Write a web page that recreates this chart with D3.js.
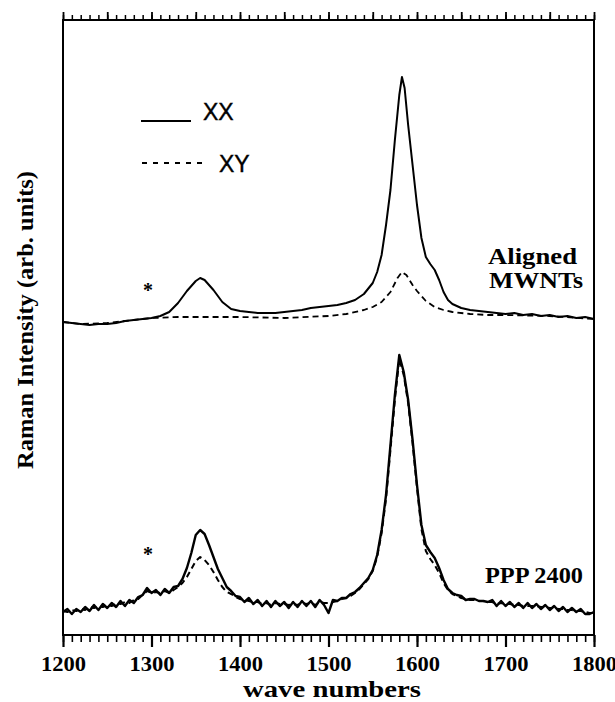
<!DOCTYPE html>
<html>
<head>
<meta charset="utf-8">
<script src="https://cdn.jsdelivr.net/npm/d3@7/dist/d3.min.js"></script>
<style>
  html, body { margin: 0; padding: 0; background: #fff; }
  svg { display: block; }
</style>
</head>
<body>
<svg id="chart" width="615" height="702"></svg>
<script>
// ---------- data ----------
const xTickLabels = [1200, 1300, 1400, 1500, 1600, 1700, 1800];

// Aligned MWNTs, XX polarisation
const wnTopXX = [1200,1210,1220,1230,1240,1250,1260,1270,1280,1290,1300,1310,1320,1330,1340,1350,1355,1360,1370,1380,1390,1400,1410,1420,1430,1440,1450,1460,1470,1480,1490,1500,1510,1520,1530,1540,1550,1555,1560,1565,1570,1575,1580,1583,1586,1590,1595,1600,1605,1610,1615,1620,1625,1630,1635,1640,1650,1660,1670,1680,1690,1700,1710,1720,1730,1740,1750,1760,1770,1780,1790,1800];
const topXX   = [313,312,311,310,311,311,312,314,315,316,317,319,323,332,344,354,357,355,345,333,326,324,323,322,322,322,323,324,325,327,328,329,330,332,335,341,352,363,380,410,445,495,540,558,547,510,470,430,397,378,371,365,355,343,335,331,327,325,324,323,322,321,322,320,321,319,320,318,319,317,318,316];

// Aligned MWNTs, XY polarisation
const wnTopXY = [1200,1220,1250,1280,1300,1330,1360,1400,1450,1500,1520,1540,1550,1560,1570,1578,1583,1588,1595,1600,1610,1620,1630,1640,1660,1680,1700,1750,1800];
const topXY   = [313,311,312,315,317,318,318,318,317,319,321,325,328,333,343,357,363,360,350,344,334,328,325,323,321,320,320,319,316];

// PPP 2400 (5 cm-1 grid)
const wnBottom = d3.range(1200, 1801, 5);
const bottomXX = [
  23,26,21,26,23,28,24,30,25,31,
  27,32,28,34,29,35,32,38,40,47,
  42,45,40,46,42,48,49,56,67,82,
  100,105,101,90,78,66,57,48,44,39,
  38,33,37,31,35,29,34,28,34,29,
  33,27,33,28,34,29,34,28,35,30,
  22,35,34,37,37,41,43,47,52,57,
  65,80,105,140,190,240,280,263,235,195,
  150,110,90,83,77,67,55,46,42,40,
  39,35,36,36,34,34,33,35,29,34,
  29,33,28,32,27,32,27,31,26,30,
  25,29,24,28,23,27,23,26,21,21,
  23];
const bottomXY = [
  24,23,25,24,26,25,28,27,29,28,
  30,29,31,31,33,32,35,36,40,44,
  42,43,42,44,42,45,48,52,58,66,
  74,78,75,70,63,55,48,43,41,38,
  36,35,34,33,33,31,32,30,32,31,
  31,30,31,30,32,31,32,30,33,32,
  32,33,34,36,37,39,42,46,51,56,
  64,78,102,136,185,235,276,260,232,192,
  147,106,84,76,70,62,52,45,41,39,
  37,36,35,35,34,34,33,33,31,32,
  31,31,30,30,29,29,29,29,28,28,
  27,27,26,26,25,25,24,24,23,22,
  22];

// ---------- drawing ----------
const svg = d3.select("#chart");
const L = 63, R = 594, T = 20, B = 635;
const x = d3.scaleLinear().domain([1200, 1800]).range([L, R]);
const y = d3.scaleLinear().domain([0, 620]).range([B, 15]);

const serif = "'Liberation Serif', 'Times New Roman', serif";
const sans = "'Liberation Sans', Arial, sans-serif";

function curve(wn, vals, dashed, w) {
  const line = d3.line().x((d, i) => x(wn[i])).y(d => y(d));
  svg.append("path")
    .datum(vals)
    .attr("d", line)
    .attr("fill", "none")
    .attr("stroke", "#000")
    .attr("stroke-width", w)
    .attr("stroke-linejoin", "round")
    .attr("stroke-dasharray", dashed ? "6,4" : null);
}

curve(wnTopXY, topXY, true, 1.8);
curve(wnTopXX, topXX, false, 2);
curve(wnBottom, bottomXY, true, 2);
curve(wnBottom, bottomXX, false, 2.4);

// frame
svg.append("rect")
  .attr("x", L).attr("y", T).attr("width", R - L).attr("height", B - T)
  .attr("fill", "none").attr("stroke", "#000").attr("stroke-width", 2);

// bottom axis
function styleAxis(g, w) {
  g.select(".domain").remove();
  g.selectAll(".tick line").attr("stroke", "#000").attr("stroke-width", w);
}
svg.append("g").attr("transform", `translate(0,${B})`)
  .call(d3.axisBottom(x).tickValues(d3.range(1200, 1801, 10)).tickSize(7).tickFormat(""))
  .call(g => styleAxis(g, 1.6));
svg.append("g").attr("transform", `translate(0,${B})`)
  .call(d3.axisBottom(x).tickValues(xTickLabels).tickSize(12).tickPadding(9).tickFormat(d3.format("d")))
  .call(g => styleAxis(g, 2.2))
  .call(g => g.selectAll("text")
     .attr("font-family", serif).attr("font-weight", "bold")
     .attr("font-size", 21).attr("fill", "#000")
     .attr("textLength", 45).attr("lengthAdjust", "spacingAndGlyphs"));

// top axis
svg.append("g").attr("transform", `translate(0,${T})`)
  .call(d3.axisTop(x).tickValues(d3.range(1200, 1801, 10)).tickSize(5).tickFormat(""))
  .call(g => styleAxis(g, 1.5));
svg.append("g").attr("transform", `translate(0,${T})`)
  .call(d3.axisTop(x).tickValues(d3.range(1200, 1801, 50)).tickSize(8).tickFormat(""))
  .call(g => styleAxis(g, 1.8));

// axis titles
svg.append("text")
  .attr("x", 332).attr("y", 697)
  .attr("text-anchor", "middle")
  .attr("font-family", serif).attr("font-weight", "bold").attr("font-size", 23)
  .attr("textLength", 178).attr("lengthAdjust", "spacingAndGlyphs")
  .text("wave numbers");
svg.append("text")
  .attr("transform", "translate(33,320) rotate(-90)")
  .attr("text-anchor", "middle")
  .attr("font-family", serif).attr("font-weight", "bold").attr("font-size", 23)
  .attr("textLength", 298).attr("lengthAdjust", "spacingAndGlyphs")
  .text("Raman Intensity (arb. units)");

// legend
svg.append("line").attr("x1", 141).attr("x2", 191).attr("y1", 121).attr("y2", 121)
  .attr("stroke", "#000").attr("stroke-width", 1.8);
svg.append("text").attr("x", 203).attr("y", 120)
  .attr("font-family", sans).attr("font-size", 23)
  .attr("stroke", "#000").attr("stroke-width", 0.4)
  .text("XX");
svg.append("line").attr("x1", 142).attr("x2", 207).attr("y1", 163).attr("y2", 163)
  .attr("stroke", "#000").attr("stroke-width", 2).attr("stroke-dasharray", "5,6");
svg.append("text").attr("x", 219).attr("y", 172)
  .attr("font-family", sans).attr("font-size", 23)
  .attr("stroke", "#000").attr("stroke-width", 0.4)
  .text("XY");

// annotations
const ann = [
  {t: "Aligned", x: 488, y: 264, w: 89},
  {t: "MWNTs", x: 489, y: 288, w: 94},
  {t: "PPP 2400", x: 485, y: 583, w: 98}
];
svg.selectAll("text.ann").data(ann).join("text")
  .attr("class", "ann")
  .attr("x", d => d.x).attr("y", d => d.y)
  .attr("font-family", serif).attr("font-weight", "bold").attr("font-size", 23)
  .attr("textLength", d => d.w).attr("lengthAdjust", "spacingAndGlyphs")
  .text(d => d.t);

const stars = [{x: 1296, y: 288}, {x: 1296, y: 552}];
svg.selectAll("text.star").data(stars).join("text")
  .attr("class", "star")
  .attr("x", d => x(d.x)).attr("y", d => d.y + 9)
  .attr("text-anchor", "middle")
  .attr("font-family", serif).attr("font-weight", "bold").attr("font-size", 20)
  .text("*");
</script>
</body>
</html>
